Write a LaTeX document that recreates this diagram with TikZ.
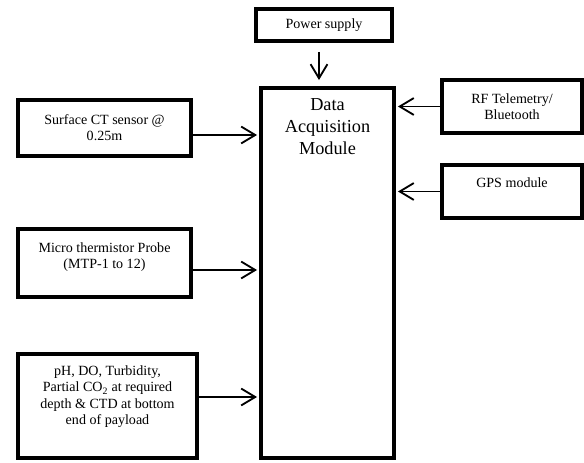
\documentclass[tikz,border=0pt]{standalone}
\usepackage{fontspec}
\setmainfont{Liberation Serif}
\usepackage{tikz}
\usetikzlibrary{arrows.meta}

\begin{document}
\begin{tikzpicture}[
  box/.style={rectangle,draw,line width=2.8pt,
    align=center,font=\fontsize{10}{11.5}\selectfont},
  arr/.style={-{Straight Barb[length=10pt,width=12pt]},line width=1.3pt}]

  \useasboundingbox (0,0) rectangle (14.6,11.575);

  \node[box,minimum width=3.4cm,minimum height=0.8cm] (power) at (8.1,10.95) {Power supply};
  \node[box,minimum width=3.325cm,minimum height=9.25cm] (daq) at (8.1875,4.75) {};
  \node[align=center,font=\fontsize{13}{15.5}\selectfont,anchor=north] (daqlbl)
    at ([yshift=-0.2cm]daq.north) {Data\\Acquisition\\Module};

  \node[box,minimum width=3.5cm,minimum height=1.325cm] (rf) at (12.8,8.9125) {RF Telemetry/\\Bluetooth};
  \node[box,minimum width=3.5cm,minimum height=1.325cm,text depth=12pt] (gps) at (12.8,6.7875) {GPS module};

  \node[box,minimum width=4.325cm,minimum height=1.4cm] (surf) at (2.6125,8.375) {Surface CT sensor @\\0.25m};
  \node[box,minimum width=4.325cm,minimum height=1.7cm,text depth=11pt] (mtp) at (2.6125,5.0)
    {Micro thermistor Probe\\(MTP-1 to 12)};
  \node[box,minimum width=4.475cm,minimum height=2.6cm,text depth=15.5pt] (ph) at (2.6875,1.425)
    {pH, DO, Turbidity,\\Partial CO\textsubscript{2} at required\\depth \& CTD at bottom\\end of payload};

  % arrows into the module
  \draw[arr,shorten <=0.225cm,shorten >=0.15cm] ([xshift=-0.125cm]power.south) -- ([xshift=-0.125cm]power.south |- daq.north);
  \draw[arr,shorten >=0.05cm] (rf.west) -- (rf.west -| daq.east);
  \draw[arr,shorten >=0.05cm] (gps.west) -- (gps.west -| daq.east);
  \draw[arr,shorten >=0.05cm] ([yshift=-0.175cm]surf.east) -- ([yshift=-0.175cm]surf.east -| daq.west);
  \draw[arr,shorten >=0.05cm] ([yshift=-0.175cm]mtp.east) -- ([yshift=-0.175cm]mtp.east -| daq.west);
  \draw[arr,shorten >=0.05cm] ([yshift=0.225cm]ph.east) -- ([yshift=0.225cm]ph.east -| daq.west);
\end{tikzpicture}
\end{document}
